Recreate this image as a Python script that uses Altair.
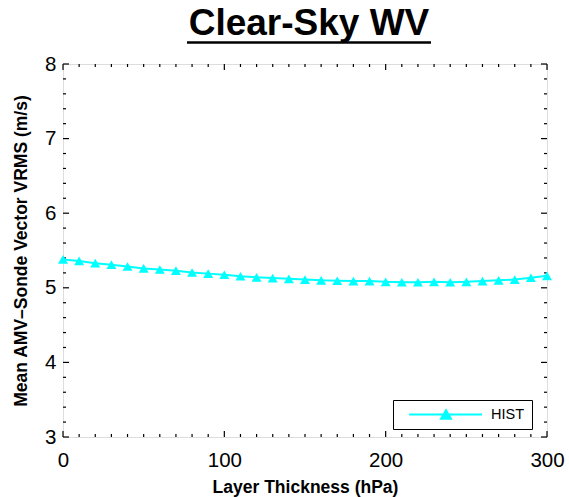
import altair as alt
import pandas as pd

# ---- data ----
thickness = [0, 10, 20, 30, 40, 50, 60, 70, 80, 90, 100, 110, 120, 130, 140, 150,
             160, 170, 180, 190, 200, 210, 220, 230, 240, 250, 260, 270, 280, 290, 300]
vrms = [5.38, 5.36, 5.33, 5.31, 5.285, 5.26, 5.245, 5.23, 5.205, 5.19, 5.175, 5.155,
        5.14, 5.13, 5.12, 5.11, 5.10, 5.095, 5.09, 5.09, 5.08, 5.075, 5.075, 5.08,
        5.075, 5.08, 5.09, 5.10, 5.11, 5.135, 5.16]
series_name = "HIST"

x_major = [0, 100, 200, 300]
x_minor = [v for v in range(0, 301, 10) if v % 100 != 0]
y_major = [3, 4, 5, 6, 7, 8]
y_minor = [round(3 + 0.2 * i, 1) for i in range(26) if (i % 5) != 0]

title_text = "Clear-Sky WV"
x_title = "Layer Thickness (hPa)"
y_title = "Mean AMV\u2013Sonde Vector VRMS (m/s)"

W, H = 484, 373
FONT = "Liberation Sans"
CYAN = "#00FFFF"

df = pd.DataFrame({"thickness": thickness, "vrms": vrms, "series": series_name})

xscale = alt.Scale(domain=[0, 300], nice=False, zero=False)
yscale = alt.Scale(domain=[3, 8], nice=False, zero=False)

xaxis = alt.Axis(values=x_major, format="d", labelFontSize=20.5, labelFont=FONT,
                 labelColor="black", ticks=False, tickSize=0, domain=False, grid=False,
                 labelPadding=13, title=x_title, titleFont=FONT, titleFontSize=17.5,
                 titleFontWeight="bold", titleColor="black", titlePadding=8,
                 labelFlush=False, labelOverlap=False)
yaxis = alt.Axis(values=y_major, format="d", labelFontSize=20.5, labelFont=FONT,
                 labelColor="black", ticks=False, tickSize=0, domain=False, grid=False,
                 labelPadding=7, title=y_title, titleFont=FONT, titleFontSize=17.5,
                 titleFontWeight="bold", titleColor="black", titlePadding=14,
                 labelFlush=False, labelOverlap=False)

line = alt.Chart(df).mark_line(color=CYAN, strokeWidth=2).encode(
    x=alt.X("thickness:Q", scale=xscale, axis=xaxis),
    y=alt.Y("vrms:Q", scale=yscale, axis=yaxis),
)

# legend symbol: line with a triangle (custom path in unit coordinates)
legend_path = ("M-0.80,0 L1,0 "
               "M0.111,-0.107 L-0.012,0.107 L0.234,0.107 Z")

points = alt.Chart(df).mark_point(shape="triangle-up", filled=True, size=100,
                                  opacity=1).encode(
    x=alt.X("thickness:Q", scale=xscale),
    y=alt.Y("vrms:Q", scale=yscale),
    color=alt.Color("series:N", scale=alt.Scale(range=[CYAN]),
                    legend=alt.Legend(title=None, orient="none", legendX=330, legendY=336,
                                      symbolType=legend_path, symbolSize=81 * 81,
                                      symbolStrokeColor=CYAN, symbolFillColor=CYAN,
                                      symbolStrokeWidth=2, symbolOpacity=1,
                                      clipHeight=15, labelOffset=8,
                                      labelFont=FONT, labelFontSize=14.5,
                                      labelColor="black", padding=7,
                                      strokeColor="black", fillColor="white",
                                      cornerRadius=0)),
)


def xticks(values, length, top):
    d = pd.DataFrame({"v": values})
    if top:
        yy, yy2 = alt.value(0), alt.value(length)
    else:
        yy, yy2 = alt.value(H), alt.value(H - length)
    return alt.Chart(d).mark_rule(color="black", strokeWidth=1.2).encode(
        x=alt.X("v:Q", scale=xscale), y=yy, y2=yy2)


def yticks(values, length, right):
    d = pd.DataFrame({"v": values})
    if right:
        xx, xx2 = alt.value(W), alt.value(W - length)
    else:
        xx, xx2 = alt.value(0), alt.value(length)
    return alt.Chart(d).mark_rule(color="black", strokeWidth=1.2).encode(
        y=alt.Y("v:Q", scale=yscale), x=xx, x2=xx2)


ticks = [xticks(x_major, 6, False), xticks(x_minor, 3, False),
         xticks(x_major, 6, True), xticks(x_minor, 3, True),
         yticks(y_major, 6, False), yticks(y_minor, 3, False),
         yticks(y_major, 6, True), yticks(y_minor, 3, True)]

underline = alt.Chart(pd.DataFrame({"t": [title_text]})).mark_rule(
    color="black", strokeWidth=2.5).encode(
    x=alt.value(124), x2=alt.value(368), y=alt.value(-21.5))

chart = alt.layer(*ticks, line, points, underline).properties(
    width=W, height=H,
    padding={"left": 63, "top": 64, "right": 22, "bottom": 60},
    autosize=alt.AutoSizeParams(type="none"),
    title=alt.TitleParams(title_text, font=FONT, fontSize=37, fontWeight="bold",
                          color="black", anchor="middle", frame="group",
                          baseline="alphabetic", offset=-30.8, dx=4),
).configure_view(stroke="black", strokeWidth=1.5).configure(background="white")

chart.save("out.html", embed_options={"renderer": "svg", "actions": False})
